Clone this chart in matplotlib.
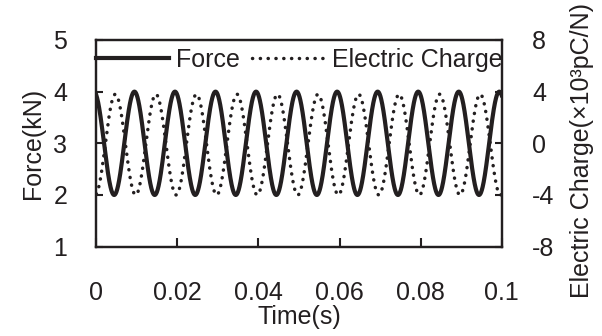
import matplotlib
matplotlib.use("Agg")
import matplotlib.pyplot as plt
import numpy as np


# Values
time_range = [0.0, 0.1]                 # s
signal_freq = 100.0                     # Hz, ~10 cycles over 0.1 s
force_mean, force_amp = 3.0, 1.0        # kN
force_peak_time = 0.0094                # s, first force maximum
charge_mean, charge_amp = -0.1, 3.9     # x10^3 pC/N
charge_peak_time = 0.0047               # s, first charge maximum

force_ticks = [1, 2, 3, 4, 5]
charge_ticks = [-8, -4, 0, 4, 8]
time_ticks = [0, 0.02, 0.04, 0.06, 0.08, 0.1]
time_labels = ["0", "0.02", "0.04", "0.06", "0.08", "0.1"]

INK = "#231f20"
FS = 18

plt.rcParams["font.family"] = ["Liberation Sans", "DejaVu Sans"]
plt.rcParams["axes.unicode_minus"] = False
plt.rcParams["text.color"] = INK
plt.rcParams["axes.labelcolor"] = INK
plt.rcParams["xtick.color"] = INK
plt.rcParams["ytick.color"] = INK

t = np.linspace(time_range[0], time_range[1], 2000)
force = force_mean + force_amp * np.cos(2 * np.pi * signal_freq * (t - force_peak_time))
charge = charge_mean + charge_amp * np.cos(2 * np.pi * signal_freq * (t - charge_peak_time))

fig = plt.figure(figsize=(6.02, 3.36), dpi=100)
ax = fig.add_axes([0.16, 0.266, 0.6734, 0.615])
ax2 = ax.twinx()

l1, = ax.plot(t, force, color=INK, lw=3.0, label="Force")
# round dots, roughly 8 px apart as in the picture
l2, = ax2.plot(t, charge, color=INK, lw=2.5, ls=(0, (0.05, 2.2)),
               dash_capstyle="round", label="Electric Charge")

ax.set_xlim(time_range)
ax.set_ylim(1, 5)
ax2.set_ylim(-8, 8)

ax.set_xticks(time_ticks)
ax.set_xticklabels(time_labels)
ax.set_yticks(force_ticks)
ax2.set_yticks(charge_ticks)

ax.tick_params(axis="x", direction="in", length=6.5, width=1.5, pad=25, labelsize=FS)
ax.tick_params(axis="y", direction="in", length=5, width=1.5, pad=21, labelsize=FS)
ax2.tick_params(axis="y", direction="in", length=5, width=1.5, pad=22, labelsize=FS)

for a in (ax, ax2):
    for s in a.spines.values():
        s.set_linewidth(1.6)
        s.set_color(INK)

ax.set_xlabel("Time(s)", fontsize=FS, labelpad=0)
ax.set_ylabel("Force(kN)", fontsize=FS, labelpad=6)
ax2.set_ylabel("Electric Charge(\u00d710\u00b3pC/N)", fontsize=FS)
ax2.yaxis.set_label_coords(1.168, 0.465)

ax2.legend(handles=[l1, l2], loc="center left", bbox_to_anchor=(0.0, 0.903),
           ncol=2, frameon=False, fontsize=FS, borderaxespad=0, borderpad=0,
           handlelength=2.9, handletextpad=0.28, columnspacing=0.5)

fig.savefig("out.png", dpi=100)
